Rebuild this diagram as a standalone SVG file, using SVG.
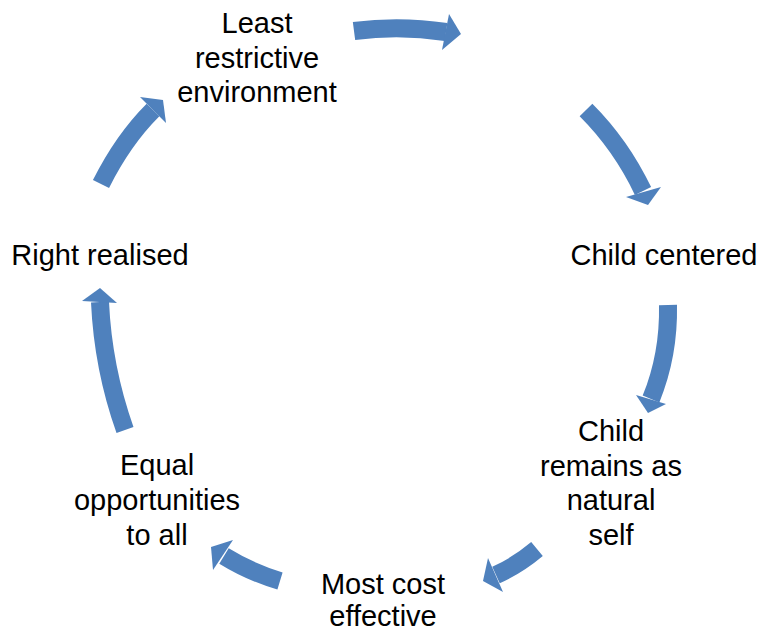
<svg xmlns="http://www.w3.org/2000/svg" width="761" height="633" viewBox="0 0 761 633">
<style>
.body{fill:none;stroke:#4F81BD;stroke-width:18;stroke-linecap:butt}
.head{fill:#4F81BD}
text{font-family:"Liberation Sans",Arial,sans-serif;font-size:29px;fill:#000;text-anchor:middle}
</style>
<rect width="761" height="633" fill="#fff"/>
<g id="connectors">
<path class="body" d="M354,31 Q400,25 446,32"/>
<polygon class="head" points="449,14 461,34 442,50"/>
<path class="body" d="M586,110 Q621,145 643,191"/>
<polygon class="head" points="626,197 648,205 661,187"/>
<path class="body" d="M668,305 Q669,355 651,399"/>
<polygon class="head" points="636,395 648,413 666,404"/>
<path class="body" d="M537,549 Q518,565 496,575"/>
<polygon class="head" points="488,558 483,581 503,592"/>
<path class="body" d="M280,581 Q250,572 224,556"/>
<polygon class="head" points="233,540 211,547 213,570"/>
<path class="body" d="M125,430 Q103,368 100,302"/>
<polygon class="head" points="82,301 100,288 117,303"/>
<path class="body" d="M101,184 Q123,140 153,110"/>
<polygon class="head" points="140,97 163,100 166,123"/>
</g>
<g id="node-least">
<text x="257" y="33">Least</text>
<text x="257" y="68">restrictive</text>
<text x="257" y="102">environment</text>
</g>
<g id="node-child-centered">
<text x="664" y="265">Child centered</text>
</g>
<g id="node-natural-self">
<text x="611" y="441">Child</text>
<text x="611" y="476">remains as</text>
<text x="611" y="510">natural</text>
<text x="611" y="545">self</text>
</g>
<g id="node-cost">
<text x="383" y="594">Most cost</text>
<text x="383" y="626">effective</text>
</g>
<g id="node-equal">
<text x="157" y="475">Equal</text>
<text x="157" y="510">opportunities</text>
<text x="157" y="545">to all</text>
</g>
<g id="node-right">
<text x="100" y="265">Right realised</text>
</g>
</svg>
